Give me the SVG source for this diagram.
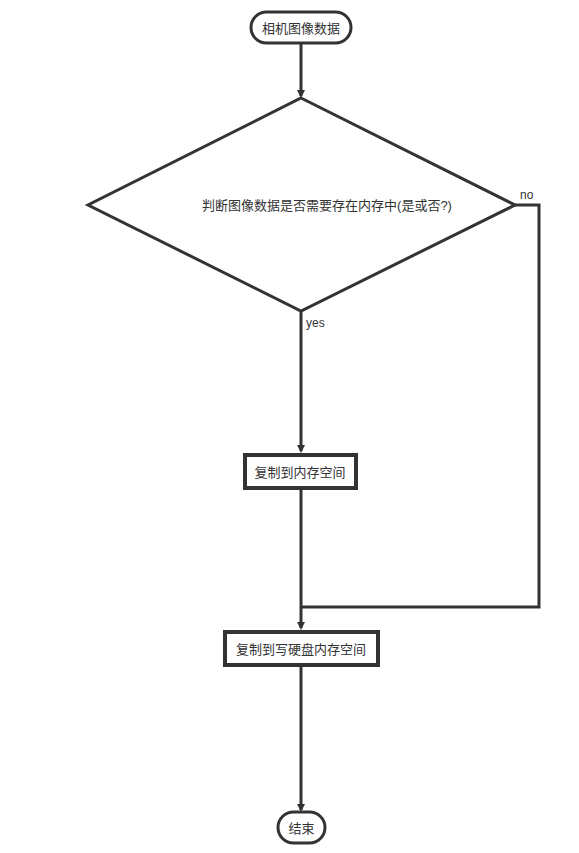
<svg xmlns="http://www.w3.org/2000/svg" width="579" height="853" viewBox="0 0 579 853">
<defs>
<style>
.n{fill:#fff;stroke:#333;stroke-width:3}
.b{fill:#fff;stroke:#333;stroke-width:4}
.c{fill:none;stroke:#333;stroke-width:3}
.t{font-family:"Liberation Sans","Noto Sans CJK SC",sans-serif;font-size:13px;fill:#333;text-anchor:middle;dominant-baseline:central}
.l{font-family:"Liberation Sans","Noto Sans CJK SC",sans-serif;font-size:12px;fill:#333}
</style>
<marker id="a" markerWidth="8" markerHeight="8" refX="6" refY="4" orient="auto" markerUnits="userSpaceOnUse"><path d="M0,0 L8,4 L0,8 z" fill="#333"/></marker>
</defs>
<rect width="579" height="853" fill="#fff"/>
<g id="connectors">
<path class="c" d="M301,43 L301,96" marker-end="url(#a)"/>
<path class="c" d="M301,311 L301,451" marker-end="url(#a)"/>
<path class="c" d="M515,205 L539,205 L539,607 L301,607"/>
<path class="c" d="M301,490 L301,628" marker-end="url(#a)"/>
<path class="c" d="M301,667 L301,810" marker-end="url(#a)"/>
<text class="l" x="306" y="327">yes</text>
<text class="l" x="520" y="199">no</text>
</g>
<g id="start">
<rect class="n" x="251" y="12" width="100" height="31" rx="15.5"/>
<text class="t" x="301" y="28">相机图像数据</text>
</g>
<g id="decision">
<polygon class="n" points="301,98 515,205 301,311 88,205"/>
<text class="t" x="327" y="205">判断图像数据是否需要存在内存中(是或否?)</text>
</g>
<g id="copy-mem">
<rect class="b" x="245" y="455" width="111" height="33"/>
<text class="t" x="300" y="472">复制到内存空间</text>
</g>
<g id="copy-disk">
<rect class="b" x="225" y="632" width="153" height="33"/>
<text class="t" x="301" y="649">复制到写硬盘内存空间</text>
</g>
<g id="end">
<rect class="n" x="278" y="812" width="47" height="31" rx="15.5"/>
<text class="t" x="301.5" y="828">结束</text>
</g>
</svg>
